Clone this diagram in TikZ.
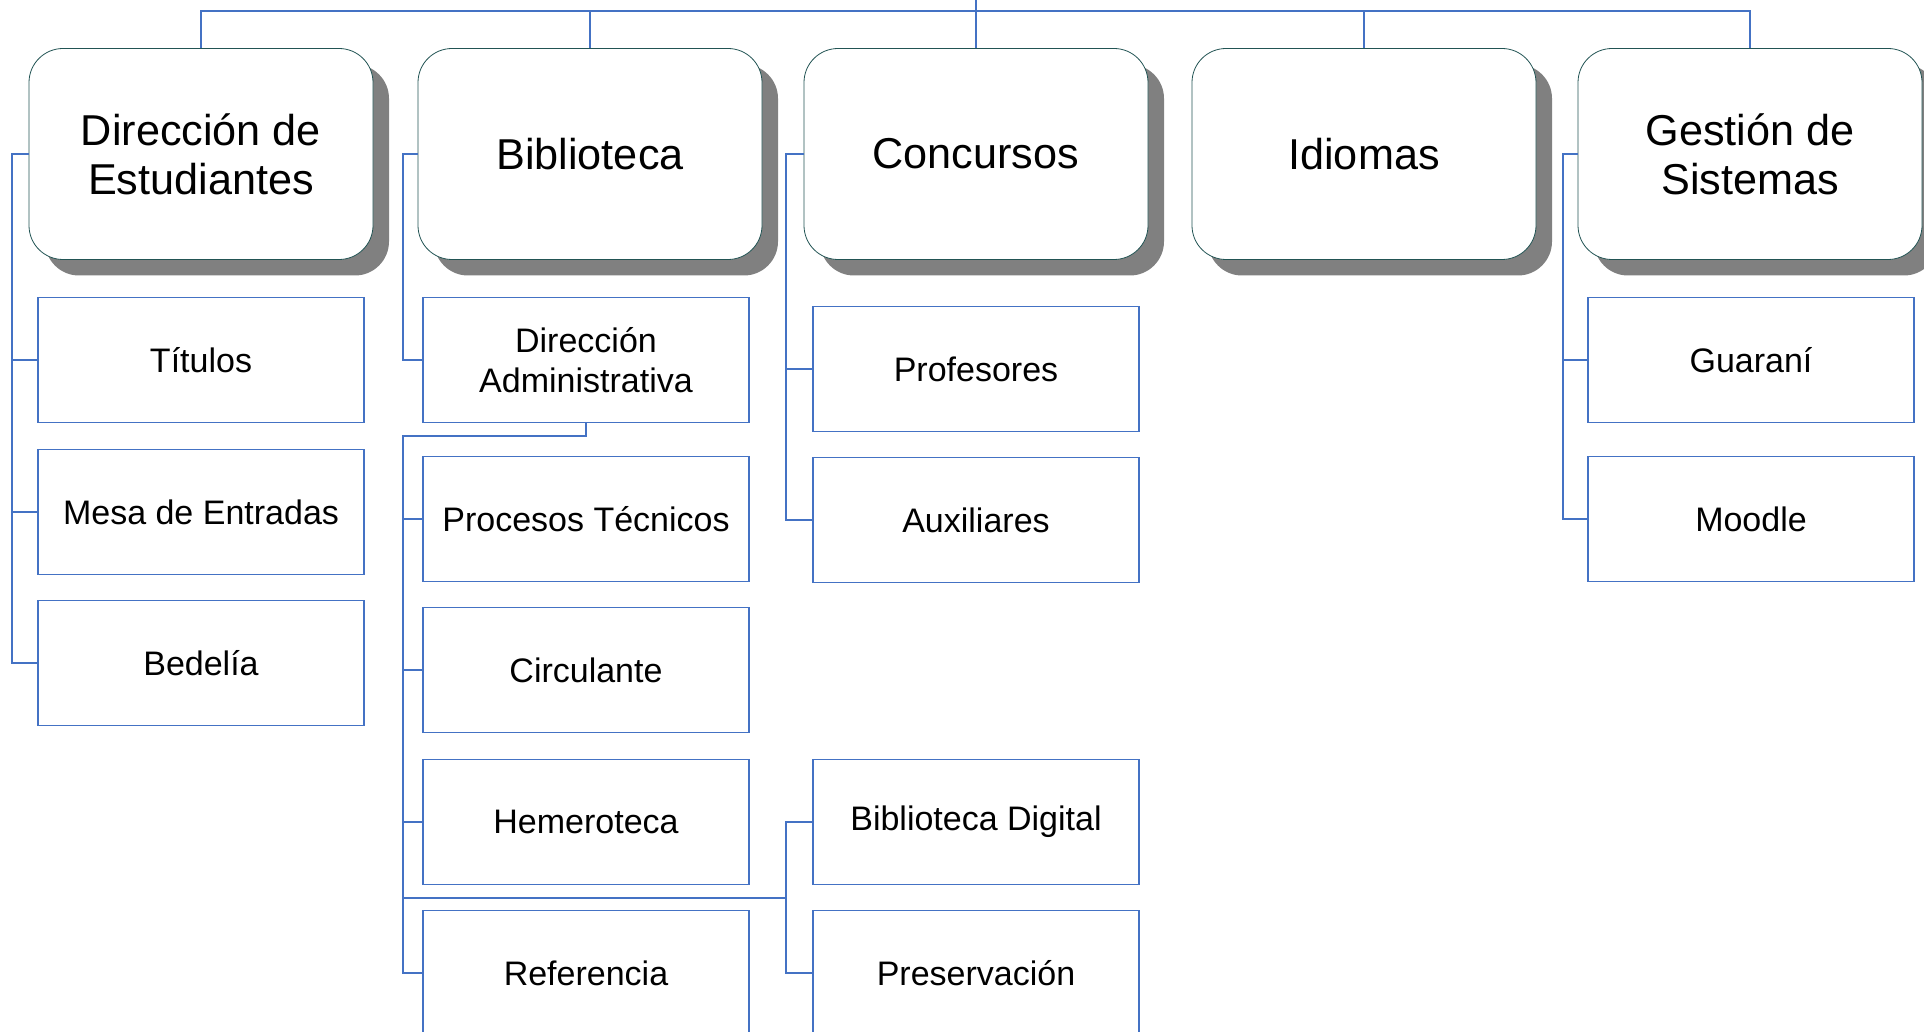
\documentclass[tikz,border=0pt]{standalone}
\usepackage{fontspec}
\setmainfont{Liberation Sans}
\usetikzlibrary{shadows}
\definecolor{orgblue}{RGB}{68,114,196}
\definecolor{orgteal}{RGB}{34,84,84}

\begin{document}
\begin{tikzpicture}[x=0.5pt,y=-0.5pt,
    headbox/.style={draw=orgteal,fill=white,rounded corners=17pt,
        minimum width=172pt,minimum height=105.5pt,inner sep=0pt,outer sep=0pt,
        align=center,font=\fontsize{21.6}{24.5}\selectfont,
        drop shadow={shadow xshift=8pt,shadow yshift=-8pt,fill=black!50,opacity=1}},
    subbox/.style={draw=orgblue,fill=white,line width=0.7pt,
        minimum width=163pt,minimum height=62.5pt,inner sep=0pt,outer sep=0pt,
        align=center,font=\fontsize{17}{20}\selectfont},
    link/.style={orgblue,line width=0.75pt}]
    \useasboundingbox (0,0) rectangle (1924,1032);
    \clip (0,0) rectangle (1924,1032);

    % Heads
    \node[headbox] (est) at (201,154) {Dirección de\\Estudiantes};
    \node[headbox] (bib) at (590,154) {Biblioteca};
    \node[headbox] (con) at (976,154) {Concursos};
    \node[headbox] (idi) at (1364,154) {Idiomas};
    \node[headbox] (ges) at (1750,154) {Gestión de\\Sistemas};

    % Direccion de Estudiantes
    \node[subbox] (tit) at (201,360) {Títulos};
    \node[subbox] (mes) at (201,512) {Mesa de Entradas};
    \node[subbox] (bed) at (201,663) {Bedelía};

    % Biblioteca
    \node[subbox] (adm) at (586,360) {Dirección\\Administrativa};
    \node[subbox] (pro) at (586,519) {Procesos Técnicos};
    \node[subbox] (cir) at (586,670) {Circulante};
    \node[subbox] (hem) at (586,822) {Hemeroteca};
    \node[subbox] (ref) at (586,973) {Referencia};

    % Concursos
    \node[subbox] (prf) at (976,369) {Profesores};
    \node[subbox] (aux) at (976,520) {Auxiliares};
    \node[subbox] (dig) at (976,822) {Biblioteca Digital};
    \node[subbox] (pre) at (976,973) {Preservación};

    % Gestion de Sistemas
    \node[subbox] (gua) at (1751,360) {Guaraní};
    \node[subbox] (moo) at (1751,519) {Moodle};

    % Top bar
    \coordinate (root) at (976,0);
    \coordinate (bar) at (976,11);
    \draw[link] (root) -- (bar);
    \foreach \h in {est,bib,con,idi,ges}
        \draw[link] (\h.north) |- (bar);

    % Column links
    \draw[link] (est.west) -- ++(-17,0) |- (bed.west);
    \foreach \s in {tit,mes}
        \draw[link] (\s.west) -- ++(-26,0);

    \draw[link] (bib.west) -- ++(-15,0) |- (adm.west);
    \coordinate (bibline) at (403,436);
    \draw[link] (adm.south) |- (bibline) |- (ref.west);
    \foreach \s in {pro,cir,hem}
        \draw[link] (\s.west) -- ++(-20,0);

    \coordinate (diglink) at (403,898);
    \coordinate (digjoin) at (786,898);
    \draw[link] (diglink) -- (digjoin) |- (dig.west);
    \draw[link] (digjoin) |- (pre.west);

    \draw[link] (con.west) -- ++(-18,0) |- (aux.west);
    \draw[link] (prf.west) -- ++(-27,0);

    \draw[link] (ges.west) -- ++(-15,0) |- (moo.west);
    \draw[link] (gua.west) -- ++(-25,0);
\end{tikzpicture}
\end{document}
